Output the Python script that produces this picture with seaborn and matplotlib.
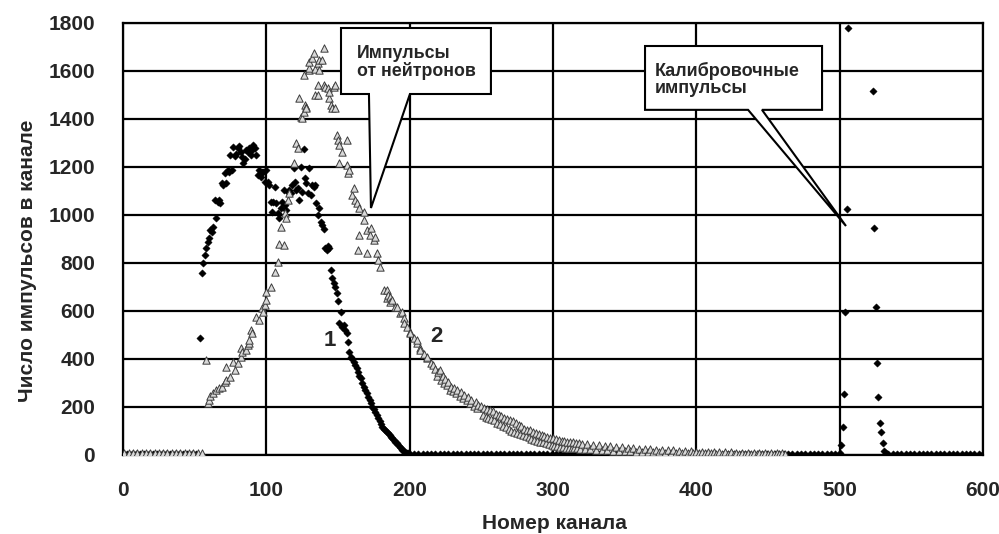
import numpy as np
import pandas as pd
import matplotlib
matplotlib.use('Agg')
import matplotlib.pyplot as plt
from matplotlib.patches import Polygon
import seaborn as sns

sns.set_style('white')
plt.rcParams['font.family'] = ['Liberation Sans', 'DejaVu Sans']
plt.rcParams['font.weight'] = 'bold'

# series 1 (black diamonds): neutron peak + calibration pulses
base1_lo_ch = np.arange(0, 54, 3)
base1_lo_v = [5, 4, 6, 5, 4, 5, 6, 4, 5, 5, 4, 6, 5, 4, 5, 6, 5, 4]

peak1_ch = list(range(54, 201))
peak1_v = [486, 760, 801, 833, 861, 889, 904, 937, 930, 951, 1062, 986, 1055, 1062, 1050,
           1132, 1125, 1174, 1132, 1188, 1181, 1250, 1188, 1285, 1245, 1255, 1280, 1287, 1262,
           1240, 1218, 1232, 1270, 1262, 1278, 1250, 1270, 1291, 1278, 1250, 1167, 1188, 1160,
           1181, 1181, 1139, 1188, 1139, 1125, 1055, 1014, 1055, 1118, 1049, 1007, 986, 1028,
           1055, 1104, 1042, 1021, 1097, 1104, 1090, 1125, 1194, 1139, 1104, 1111, 1062, 1201,
           1097, 1275, 1153, 1132, 1090, 1194, 1083, 1125, 1118, 1125, 1050, 1000, 1028, 972,
           958, 940, 861, 854, 870, 861, 771, 736, 715, 701, 674, 640, 549, 597, 535, 540, 521,
           507, 470, 431, 410, 400, 389, 375, 361, 347, 330, 319, 300, 285, 270, 257, 243, 230,
           215, 201, 190, 180, 167, 153, 140, 130, 118, 110, 104, 97, 90, 83, 76, 70, 62, 56,
           49, 42, 35, 28, 21, 17, 14, 10, 8, 6]

base1_mid_ch = np.arange(203, 500, 3)
base1_mid_v = [4, 3, 5, 4, 3, 4, 5, 3, 4, 4, 3, 5, 4, 3, 4, 5, 4, 3, 4, 4,
               3, 5, 4, 3, 4, 4, 3, 5, 4, 3, 4, 5, 4, 3, 4, 4, 3, 5, 4, 3,
               4, 4, 3, 5, 4, 3, 4, 5, 4, 3, 4, 4, 3, 5, 4, 3, 4, 4, 3, 5,
               4, 3, 4, 5, 4, 3, 4, 4, 3, 5, 4, 3, 4, 4, 3, 5, 4, 3, 4, 5,
               4, 3, 4, 4, 3, 5, 4, 3, 4, 4, 3, 5, 4, 3, 4, 5, 4, 3, 4]

calib_ch = [500, 501, 502, 503, 504, 505, 506, 523, 524, 525, 526, 527, 528, 529, 530, 531, 532]
calib_v = [8, 42, 115, 255, 595, 1025, 1780, 1515, 945, 615, 385, 240, 135, 97, 51, 15, 8]

base1_hi_ch = np.arange(534, 601, 3)
base1_hi_v = [5, 4, 3, 4, 5, 4, 3, 4, 4, 3, 5, 4, 3, 4, 5, 4, 3, 4, 4, 3, 5, 4, 4]

# series 2 (open triangles)
base2_lo_ch = np.arange(1, 56, 3)
base2_lo_v = [9, 8, 10, 9, 8, 10, 9, 8, 9, 10, 8, 9, 10, 8, 9, 10, 9, 8, 9]

peak2 = [(58, 396), (59, 215), (60, 229), (61, 245), (63, 257), (65, 271), (67, 278),
         (69, 285), (71, 305), (72, 312), (72, 368), (75, 326), (77, 389), (78, 354),
         (80, 382), (82, 410), (82, 444), (83, 430), (86, 437), (87, 458), (88, 465),
         (88, 479), (89, 521), (90, 507), (93, 576), (95, 562), (97, 611), (98, 597),
         (99, 625), (100, 646), (100, 680), (103, 701), (106, 764), (108, 803), (109, 879),
         (110, 951), (112, 875), (113, 1007), (114, 986), (115, 1062), (116, 1090),
         (119, 1215), (121, 1299), (122, 1278), (123, 1486), (124, 1410), (125, 1403),
         (126, 1430), (126, 1583), (127, 1458), (128, 1451), (128, 1444), (130, 1604),
         (130, 1611), (130, 1639), (132, 1652), (133, 1673), (134, 1500), (134, 1607),
         (136, 1500), (136, 1542), (136, 1632), (137, 1604), (137, 1646), (139, 1646),
         (140, 1694), (140, 1542), (141, 1535), (143, 1528), (144, 1486), (144, 1514),
         (145, 1458), (146, 1444), (147, 1535), (148, 1444), (148, 1542), (149, 1333),
         (150, 1312), (151, 1292), (151, 1215), (153, 1264), (156, 1312), (156, 1208),
         (157, 1174), (158, 1188), (160, 1083), (161, 1111), (162, 1062), (163, 1049),
         (164, 854), (165, 1028), (165, 917), (168, 1014), (168, 979), (170, 937),
         (170, 840), (172, 917), (173, 944), (175, 896), (176, 910), (177, 840), (178, 812),
         (179, 785), (182, 687), (184, 687), (184, 653), (185, 667), (186, 660), (186, 639),
         (188, 646), (190, 618), (191, 618), (193, 590), (195, 597), (196, 569), (196, 549),
         (198, 535), (200, 514), (200, 507), (203, 486), (205, 465), (205, 479), (207, 444),
         (207, 437), (210, 420), (212, 403), (212, 410), (215, 385), (216, 375), (218, 360),
         (219, 330), (220, 347), (221, 354), (222, 312), (223, 330), (224, 299), (225, 318),
         (226, 290), (227, 305), (228, 271), (229, 285), (230, 265), (231, 280), (232, 257),
         (233, 270), (235, 245), (236, 262), (237, 236), (238, 250), (240, 229), (241, 240),
         (242, 215), (243, 230), (245, 205), (246, 220), (247, 194), (248, 210)]

tail2_ch = list(range(250, 320)) + list(range(320, 464, 2))
tail2_v = [204, 168, 196, 160, 192, 156, 188, 150, 182, 146,
           170, 134, 166, 128, 162, 122, 156, 116, 150, 108,
           145, 100, 140, 96, 133, 92, 126, 88, 120, 84,
           110, 78, 106, 74, 102, 68, 97, 64, 92, 60,
           88, 55, 84, 52, 80, 48, 76, 44, 72, 40,
           70, 38, 66, 36, 63, 34, 60, 33, 58, 31,
           56, 30, 54, 29, 52, 28, 50, 27, 48, 26,
           47, 25, 45, 23, 43, 22, 41, 21, 39, 20,
           36, 18, 34, 17, 32, 16, 30, 15, 28, 14,
           26, 13, 25, 12, 24, 12, 22, 11, 21, 10,
           20, 10, 19, 9, 18, 9, 17, 8, 16, 8,
           14, 7, 14, 7, 13, 7, 12, 6, 12, 6,
           11, 6, 11, 6, 10, 6, 10, 5, 9, 5,
           9, 5, 9, 5, 8, 5, 8, 5, 8, 5, 7, 5]

peak2_ch = [c for c, v in peak2]
peak2_v = [v for c, v in peak2]

s1 = pd.DataFrame({
    'channel': np.concatenate([base1_lo_ch, peak1_ch, base1_mid_ch, calib_ch, base1_hi_ch]),
    'count': np.concatenate([base1_lo_v, peak1_v, base1_mid_v, calib_v, base1_hi_v]),
})
s2 = pd.DataFrame({
    'channel': np.concatenate([base2_lo_ch, peak2_ch, tail2_ch]),
    'count': np.concatenate([base2_lo_v, peak2_v, tail2_v]),
})

fig, ax = plt.subplots(figsize=(9.99, 5.34), dpi=100)
fig.subplots_adjust(left=0.1231, right=0.984, top=0.957, bottom=0.148)

sns.scatterplot(data=s1, x='channel', y='count', marker='D', s=14, color='black',
                edgecolor='black', linewidth=0.3, ax=ax, zorder=3)
sns.scatterplot(data=s2, x='channel', y='count', marker='^', s=28, color='#d9d9d9',
                edgecolor='#3c3c3c', linewidth=0.7, ax=ax, zorder=4)

ax.set_xlim(0, 600)
ax.set_ylim(0, 1800)
ax.set_xticks(range(0, 601, 100))
ax.set_yticks(range(0, 1801, 200))
ax.grid(True, color='black', linewidth=1.6)
ax.set_axisbelow(True)
for sp in ax.spines.values():
    sp.set_color('black')
    sp.set_linewidth(1.6)
ax.tick_params(axis='both', direction='out', length=6, width=1.5, color='black', labelsize=15)
ax.tick_params(axis='x', pad=13)
ax.tick_params(axis='y', pad=14)
for lab in ax.get_xticklabels() + ax.get_yticklabels():
    lab.set_fontweight('bold')

ax.set_xlabel('Номер канала', fontsize=15, fontweight='bold')
ax.set_ylabel('Число импульсов в канале', fontsize=15, fontweight='bold')
ax.xaxis.set_label_coords(0.502, -0.137)
ax.yaxis.set_label_coords(-0.1, 0.45)

# callouts
call1 = Polygon([(152.1, 1779), (256.7, 1779), (256.7, 1504), (200.2, 1504), (173.0, 1029),
                 (171.6, 1504), (152.1, 1504)], closed=True, facecolor='white',
                edgecolor='black', linewidth=1.5, zorder=6)
ax.add_patch(call1)
ax.text(163, 1637, 'Импульсы\nот нейтронов', fontsize=12.8, fontweight='bold',
        ha='left', va='center', linespacing=1.0, zorder=7)

call2 = Polygon([(364.2, 1704), (487.7, 1704), (487.7, 1438), (445.8, 1438), (504.4, 954),
                 (436.1, 1438), (364.2, 1438)], closed=True, facecolor='white',
                edgecolor='black', linewidth=1.5, zorder=6)
ax.add_patch(call2)
ax.text(371, 1566, 'Калибровочные\nимпульсы', fontsize=13, fontweight='bold',
        ha='left', va='center', linespacing=1.0, zorder=7)

ax.text(144.4, 479, '1', fontsize=16, fontweight='bold', ha='center', va='center', zorder=7)
ax.text(219, 492, '2', fontsize=16, fontweight='bold', ha='center', va='center', zorder=7)

plt.savefig('out.png', dpi=100)
